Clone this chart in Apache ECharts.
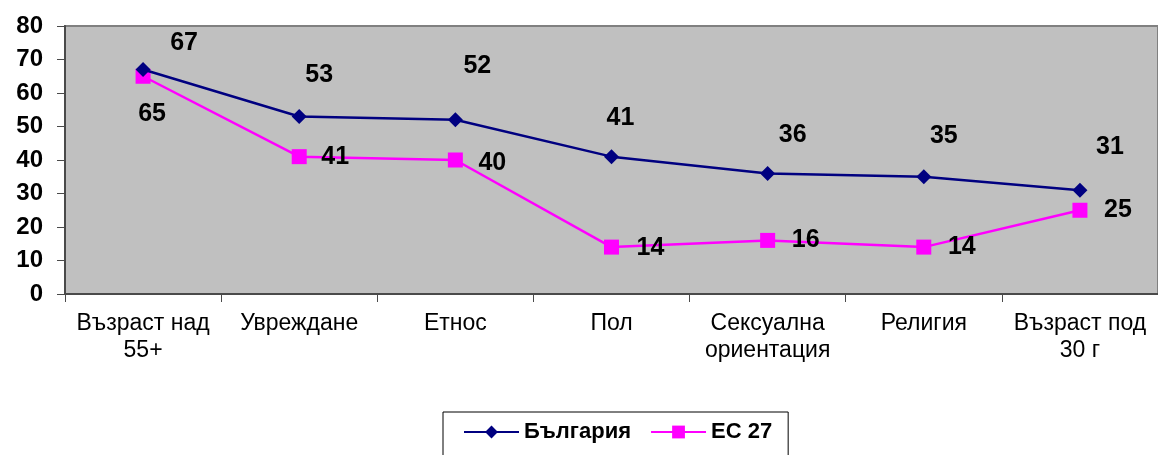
<!DOCTYPE html>
<html>
<head>
<meta charset="utf-8">
<script src="https://cdn.jsdelivr.net/npm/echarts@6/dist/echarts.min.js"></script>
<style>
  html, body { margin: 0; padding: 0; background: #fff; }
  #chart { width: 1158px; height: 455px; }
</style>
</head>
<body>
<div id="chart"></div>
<script>
var categories = ['Възраст над\n55+', 'Увреждане', 'Етнос', 'Пол', 'Сексуална\nориентация', 'Религия', 'Възраст под\n30 г'];
var bulgaria = [67, 53, 52, 41, 36, 35, 31];
var eu27 = [65, 41, 40, 14, 16, 14, 25];
var yTicks = { min: 0, max: 80, interval: 10 };

// label offsets from the point (label positions in the original are placed by hand)
var bgOffsets = [[41, -26], [20, -41], [22, -54], [9, -39], [25, -38], [20, -41], [30, -43]];
var euOffsets = [[9, 38], [36, 0], [37, 3], [39, 1], [38, 0], [38, 0], [38, 0]];

var font = 'Arial, "Liberation Sans", sans-serif';

function withLabels(values, offsets) {
  return values.map(function (v, i) {
    return { value: v, label: { offset: offsets[i] } };
  });
}

var labelStyle = {
  show: true,
  position: 'inside',
  align: 'center',
  verticalAlign: 'middle',
  color: '#000',
  fontFamily: font,
  fontWeight: 'bold',
  fontSize: 25
};

var option = {
  animation: false,
  backgroundColor: '#fff',
  grid: {
    left: 65, top: 26, right: -1, bottom: 161,
    show: true,
    backgroundColor: '#C0C0C0',
    borderColor: '#808080',
    borderWidth: 2
  },
  legend: {
    left: 443,
    top: 412,
    padding: [9, 16, 20, 20],
    borderColor: '#000',
    borderWidth: 1,
    itemGap: 19,
    itemWidth: 55,
    itemHeight: 16,
    textStyle: { color: '#000', fontFamily: font, fontWeight: 'bold', fontSize: 22 },
    data: ['България', 'ЕС 27']
  },
  xAxis: {
    type: 'category',
    data: categories,
    boundaryGap: true,
    axisLine: { lineStyle: { color: '#4a4a4a', width: 2 } },
    axisTick: { show: true, interval: 0, length: 8, lineStyle: { color: '#4a4a4a', width: 1 } },
    axisLabel: {
      interval: 0,
      color: '#000',
      fontFamily: font,
      fontSize: 23,
      lineHeight: 27,
      margin: 16
    },
    splitLine: { show: false }
  },
  yAxis: {
    type: 'value',
    min: yTicks.min,
    max: yTicks.max,
    interval: yTicks.interval,
    axisLine: { show: true, lineStyle: { color: '#4a4a4a', width: 2 } },
    axisTick: { show: true, length: 8, lineStyle: { color: '#4a4a4a', width: 1 } },
    axisLabel: {
      color: '#000',
      fontFamily: font,
      fontWeight: 'bold',
      fontSize: 24,
      margin: 22
    },
    splitLine: { show: false }
  },
  series: [
    {
      name: 'България',
      type: 'line',
      data: withLabels(bulgaria, bgOffsets),
      symbol: 'diamond',
      symbolSize: 15,
      itemStyle: { color: '#000080' },
      lineStyle: { color: '#000080', width: 2.5 },
      label: labelStyle,
      z: 3
    },
    {
      name: 'ЕС 27',
      type: 'line',
      data: withLabels(eu27, euOffsets),
      symbol: 'rect',
      symbolSize: 15,
      itemStyle: { color: '#FF00FF' },
      lineStyle: { color: '#FF00FF', width: 2.5 },
      label: labelStyle,
      z: 2
    }
  ]
};

var myChart = echarts.init(document.getElementById('chart'));
myChart.setOption(option);
</script>
</body>
</html>
